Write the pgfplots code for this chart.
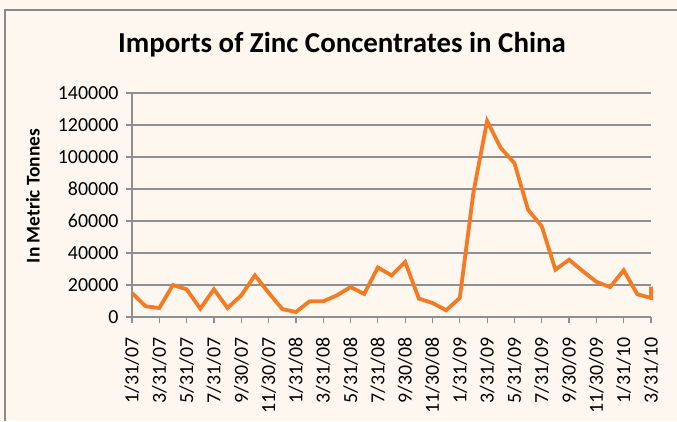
\documentclass[border=0pt]{standalone}
\usepackage{pgfplots}
\pgfplotsset{compat=1.18}
\usepackage{fontspec}
\setmainfont{Carlito}
\definecolor{bg}{HTML}{FEF7F0}
\definecolor{zinc}{HTML}{F47A23}
\definecolor{gridc}{HTML}{8F8F8F}
\definecolor{framec}{HTML}{8A8A8A}
\pgfplotstableread{
m val
0 15000
1 6700
2 5600
3 20000
4 17300
5 5200
6 17300
7 5600
8 13500
9 26000
10 15200
11 5000
12 3100
13 9800
14 9800
15 13500
16 18700
17 14400
18 31000
19 26000
20 34400
21 11500
22 8750
23 4200
24 11900
25 78000
26 122500
27 105600
28 96200
29 67000
30 56700
31 29600
32 35800
33 28700
34 22000
35 18700
36 29200
37 14200
38 11900
38 19000
}\zinctable
\begin{document}
\begin{tikzpicture}[x=1bp,y=1bp]
\fill[bg] (0,0) rectangle (677,421);
\path[use as bounding box] (0,0) rectangle (677,421);
\draw[framec, line width=2bp] (5,0) -- (5,411) -- (677,411);
\node[anchor=base, font=\fontsize{29}{34}\selectfont\bfseries] at (342,369) {Imports of Zinc Concentrates in China};
\node[rotate=90, font=\fontsize{19.5}{23}\selectfont\bfseries] at (33,225) {In Metric Tonnes};
\begin{axis}[
  at={(132bp,104bp)}, anchor=south west,
  scale only axis, width=519bp, height=224bp,
  xmin=0, xmax=38, ymin=0, ymax=140000,
  axis lines*=left,
  axis line style={gridc, line width=1.2bp},
  ymajorgrids, grid style={gridc, line width=1.2bp},
  tick style={gridc, line width=1.2bp},
  major tick length=6bp, tick align=outside,
  ytick={0,20000,40000,60000,80000,100000,120000,140000},
  yticklabels={0,20000,40000,60000,80000,100000,120000,140000},
  scaled y ticks=false,
  xtick={0,2,...,38},
  xticklabels={1/31/07,3/31/07,5/31/07,7/31/07,9/30/07,11/30/07,1/31/08,3/31/08,5/31/08,7/31/08,9/30/08,11/30/08,1/31/09,3/31/09,5/31/09,7/31/09,9/30/09,11/30/09,1/31/10,3/31/10},
  x tick label style={yshift=-11bp, rotate=90, anchor=east, font=\fontsize{20}{24}\selectfont},
  y tick label style={xshift=-4bp, font=\fontsize{20}{24}\selectfont},
  clip=false,
]
\addplot[zinc, line width=3.8bp, line join=miter, no marks] table[x=m, y=val] {\zinctable};
\end{axis}
\end{tikzpicture}
\end{document}
